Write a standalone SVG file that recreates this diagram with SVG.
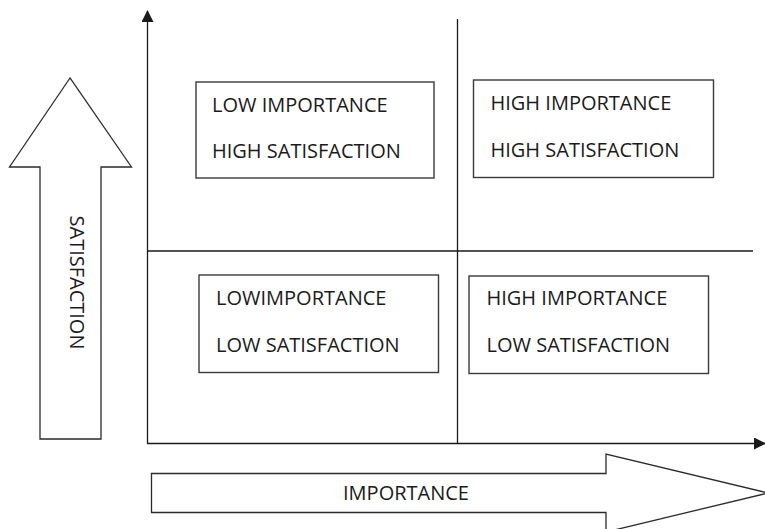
<svg xmlns="http://www.w3.org/2000/svg" width="765" height="529" viewBox="0 0 765 529">
  <style>
    .bg { fill: #ffffff; }
    .box { fill: #ffffff; stroke: #3a3a3a; stroke-width: 1.4; }
    .big { fill: #ffffff; stroke: #2a2a2a; stroke-width: 1.3; stroke-linejoin: miter; }
    .axis { fill: none; stroke: #1a1a1a; stroke-width: 1.3; }
    .lbl { font-family: "Open Sans", "Liberation Sans", sans-serif; font-size: 20px; fill: #1a1a1a; }
  </style>
  <defs>
    <marker id="tri" viewBox="0 0 12 12" refX="11" refY="6" markerWidth="12" markerHeight="12" markerUnits="userSpaceOnUse" orient="auto">
      <path d="M0,0 L12,6 L0,12 Z" fill="#1a1a1a"/>
    </marker>
  </defs>
  <rect class="bg" x="0" y="0" width="765" height="529"/>

  <g id="connectors">
    <line class="axis" x1="147.5" y1="443.5" x2="147.5" y2="11" marker-end="url(#tri)"/>
    <line class="axis" x1="147" y1="443.5" x2="765" y2="443.5" marker-end="url(#tri)"/>
    <line class="axis" x1="457.5" y1="19" x2="457.5" y2="443.5"/>
    <line class="axis" x1="147" y1="251" x2="753" y2="251"/>
  </g>

  <g id="satisfaction-arrow">
    <path class="big" d="M70,78 L9.5,167 L40,167 L40,439 L101,439 L101,167 L131.5,167 Z"/>
    <text class="lbl" transform="translate(70,282.5) rotate(90)" text-anchor="middle">SATISFACTION</text>
  </g>

  <g id="importance-arrow">
    <path class="big" d="M151.5,473.5 L606,473.5 L606,454 L768,493 L606,532 L606,512.5 L151.5,512.5 Z"/>
    <text class="lbl" x="406" y="500" text-anchor="middle">IMPORTANCE</text>
  </g>

  <g id="low-importance-high-satisfaction">
    <rect class="box" x="196" y="82" width="238" height="96"/>
    <text class="lbl" x="212" y="111.5">LOW IMPORTANCE</text>
    <text class="lbl" x="212" y="157.5">HIGH SATISFACTION</text>
  </g>

  <g id="high-importance-high-satisfaction">
    <rect class="box" x="473.5" y="80" width="240" height="97.5"/>
    <text class="lbl" x="490.5" y="110">HIGH IMPORTANCE</text>
    <text class="lbl" x="490.5" y="156.5">HIGH SATISFACTION</text>
  </g>

  <g id="low-importance-low-satisfaction">
    <rect class="box" x="199" y="275" width="239.5" height="97.5"/>
    <text class="lbl" x="216" y="305">LOWIMPORTANCE</text>
    <text class="lbl" x="216" y="352">LOW SATISFACTION</text>
  </g>

  <g id="high-importance-low-satisfaction">
    <rect class="box" x="469" y="276" width="239.5" height="97.5"/>
    <text class="lbl" x="486.5" y="305">HIGH IMPORTANCE</text>
    <text class="lbl" x="486.5" y="352">LOW SATISFACTION</text>
  </g>
</svg>
